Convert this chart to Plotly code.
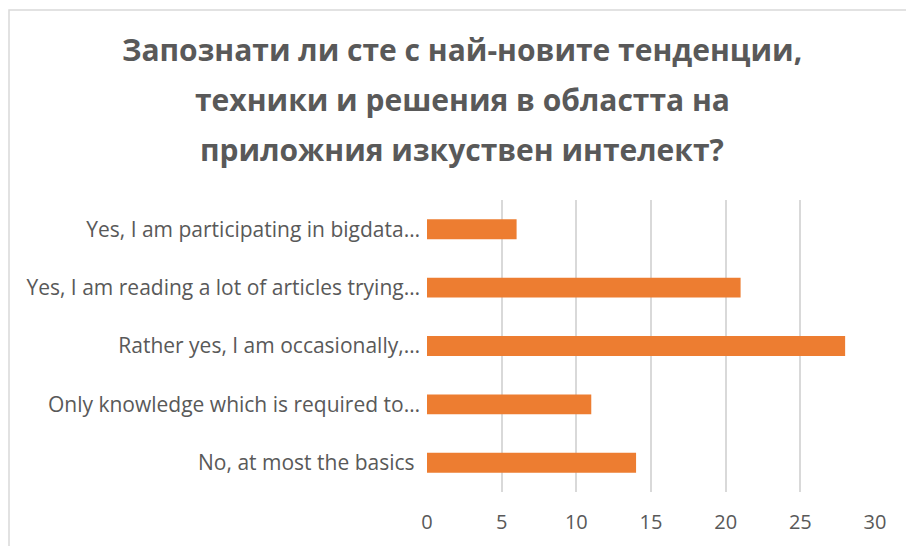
import plotly.graph_objects as go

# Survey answers (bottom to top as drawn) and response counts
categories = [
    "No, at most the basics ",
    "Only knowledge which is required to…",
    "Rather yes, I am occasionally,…",
    "Yes, I am reading a lot of articles trying…",
    "Yes, I am participating in bigdata…",
]
counts = [14, 11, 28, 21, 6]
x_ticks = [0, 5, 10, 15, 20, 25, 30]

title_lines = [
    "Запознати ли сте с най-новите тенденции,",
    "техники и решения в областта на",
    "приложния изкуствен интелект?",
]

label_color = "#595959"
font_family = "Open Sans, Liberation Sans, sans-serif"

W, H = 906, 546
ML, MR, MT, MB = 427, 31, 200, 54
PW, PH = W - ML - MR, H - MT - MB


def px_to_paper(xpx, ypx):
    return (xpx - ML) / PW, (H - MB - ypx) / PH


fig = go.Figure(
    go.Bar(
        x=counts,
        y=categories,
        orientation="h",
        marker=dict(color="#ED7D31", line=dict(width=0)),
    )
)

fig.update_layout(
    width=W,
    height=H,
    margin=dict(l=ML, r=MR, t=MT, b=MB),
    paper_bgcolor="white",
    plot_bgcolor="white",
    bargap=0.66,
    showlegend=False,
    font=dict(family=font_family, color=label_color, size=16),
)

fig.update_xaxes(
    range=[0, 30],
    tickvals=x_ticks,
    showgrid=True,
    gridcolor="#D9D9D9",
    gridwidth=1.5,
    zeroline=False,
    showline=False,
    ticks="",
    ticklabelstandoff=16,
    tickfont=dict(size=20, color=label_color),
    fixedrange=True,
)
fig.update_yaxes(
    categoryorder="array",
    categoryarray=categories,
    showgrid=False,
    zeroline=False,
    showline=False,
    ticks="",
    ticklabelstandoff=6,
    tickfont=dict(size=21, color=label_color),
    fixedrange=True,
)

# Three-line bold title
title_y = [50, 100, 149]
for line, ypx in zip(title_lines, title_y):
    ax, ay = px_to_paper(462, ypx)
    fig.add_annotation(
        text=f"<b>{line}</b>",
        x=ax,
        y=ay,
        xref="paper",
        yref="paper",
        xanchor="center",
        yanchor="middle",
        showarrow=False,
        font=dict(size=30, color=label_color, family=font_family),
    )

# Chart frame (right and bottom edges run off the page)
x0, y1 = px_to_paper(9, 10)
fig.add_shape(
    type="rect",
    xref="paper",
    yref="paper",
    x0=x0,
    x1=1.2,
    y0=-0.5,
    y1=y1,
    line=dict(color="#D9D9D9", width=1.5),
    fillcolor="rgba(0,0,0,0)",
    layer="below",
)

fig.write_html("out.html")
